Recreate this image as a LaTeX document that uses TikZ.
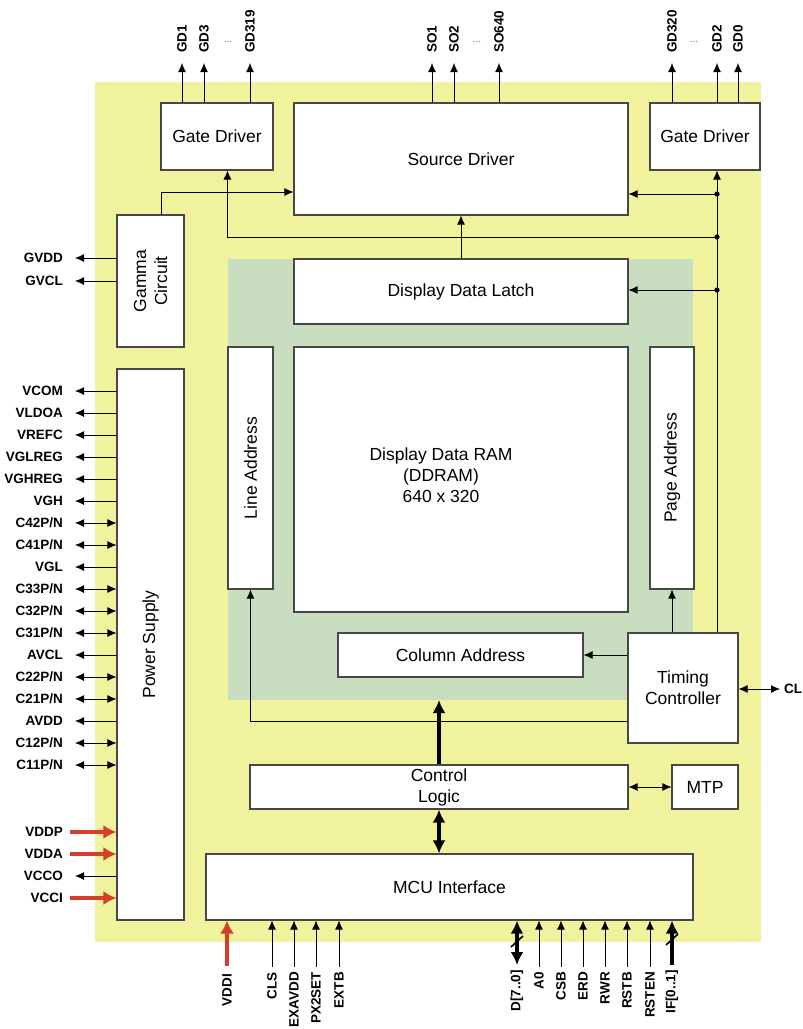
\documentclass[tikz,border=0pt]{standalone}
\usepackage{fontspec}
\setmainfont{Liberation Sans}
\usetikzlibrary{arrows.meta}
\definecolor{chipyellow}{RGB}{240,242,158}
\definecolor{ramgreen}{RGB}{201,222,192}
\definecolor{supplyred}{RGB}{212,62,42}
\tikzset{
  blk/.style={draw=black!72, line width=1.1pt, fill=white, inner sep=0pt, align=center},
  pin/.style={font=\bfseries\fontsize{13.5}{15}\selectfont, inner sep=0pt},
  arr/.style={-{Latex[length=9pt,width=8pt]}, line width=0.9pt},
  darr/.style={{Latex[length=9pt,width=8pt]}-{Latex[length=9pt,width=8pt]}, line width=0.9pt},
  bus/.style={-{Latex[length=13pt,width=13pt]}, line width=3.6pt},
  dbus/.style={{Latex[length=13pt,width=13pt]}-{Latex[length=13pt,width=13pt]}, line width=3.6pt},
  supply/.style={-{Latex[length=13pt,width=14pt]}, line width=3.6pt, draw=supplyred},
  gap/.style={font=\fontsize{10}{12}\selectfont, text=black!60, inner sep=0pt}
}
\begin{document}
\begin{tikzpicture}[x=1pt, y=-1pt, font=\fontsize{17.5}{21}\selectfont]
  \useasboundingbox (0,0) rectangle (803,1029);
  % chip and RAM area
  \fill[chipyellow] (95,82) rectangle (761,942);
  \fill[ramgreen] (228,259) rectangle (693,700);
  % blocks
  \node[blk, minimum width=112pt, minimum height=67pt] (gdl) at (217,136.5) {Gate Driver};
  \node[blk, minimum width=334pt, minimum height=112pt] (src) at (461,159) {Source Driver};
  \node[blk, minimum width=110pt, minimum height=67pt] (gdr) at (705,136.5) {Gate Driver};
  \node[blk, minimum width=67pt, minimum height=132pt] (gamma) at (150.5,281) {};
  \node[rotate=90, align=center] (gammatxt) at (gamma) {Gamma\\Circuit};
  \node[blk, minimum width=334pt, minimum height=65pt] (latch) at (461,291.5) {Display Data Latch};
  \node[blk, minimum width=45pt, minimum height=242pt] (la) at (250.5,468) {};
  \node[rotate=90] (latxt) at (la) {Line Address};
  \node[blk, minimum width=334pt, minimum height=265pt] (ram) at (461,479.5) {};
  \node[align=center] (ramtxt) at (441,475) {Display Data RAM\\(DDRAM)\\640 x 320};
  \node[blk, minimum width=44pt, minimum height=242pt] (pa) at (672,468) {};
  \node[rotate=90] (patxt) at (pa) {Page Address};
  \node[blk, minimum width=245pt, minimum height=44pt] (col) at (460.5,655) {Column Address};
  \node[blk, minimum width=110pt, minimum height=110pt] (tc) at (683,688) {Timing\\Controller};
  \node[blk, minimum width=378pt, minimum height=44pt] (ctrl) at (439,787) {Control\\Logic};
  \node[blk, minimum width=66pt, minimum height=44pt] (mtp) at (705,787) {MTP};
  \node[blk, minimum width=487pt, minimum height=66pt] (mcu) at (449.5,887) {MCU Interface};
  \node[blk, minimum width=67pt, minimum height=551pt] (pwr) at (150.5,644.5) {};
  \node[rotate=90] (pwrtxt) at (pwr) {Power Supply};
  % internal connections
  \coordinate (tap1) at (717,194);
  \coordinate (tap2) at (717,237);
  \coordinate (tap3) at (717,290);
  \coordinate (ramedge) at (439,700);
  \draw[arr] ([xshift=10.5pt]gamma.north) |- ([yshift=-33pt]src.west);
  \draw[arr] (tap1 |- tc.north) -- (tap1 |- gdr.south);
  \draw[arr] (tap1) -- (src.east |- tap1);
  \draw[arr] (tap2) -| (gdl.south -| la.west);
  \draw[arr] (tap3) -- (latch.east |- tap3);
  \foreach \t in {tap1, tap2, tap3}
    \fill (\t) circle (2.6pt);
  \draw[arr] (latch.north) -- (src.south);
  \draw[arr] (pa.south |- tc.north) -- (pa.south);
  \draw[arr] (tc.west |- col.east) -- (col.east);
  \draw[arr] ([yshift=-33pt]tc.west) -| (la.south);
  \draw[bus] (ctrl.north) -- (ramedge);
  \draw[dbus] (ctrl.south) -- (ctrl.south |- mcu.north);
  \draw[darr] (ctrl.east |- mtp.west) -- (mtp.west);
  \node[pin, anchor=west, inner xsep=4pt] (cl) at (780,689) {CL};
  \draw[darr] (tc.east |- cl.west) -- (cl.west);
  % top pins
  \foreach \x/\lab [count=\i] in {182/GD1, 204/GD3, 250/GD319} {
    \node[pin, rotate=90, anchor=west, inner xsep=10pt] (gl\i) at (\x,63) {\lab};
    \draw[arr] (gdl.north -| gl\i.west) -- (gl\i.west);
  }
  \foreach \x/\lab [count=\i] in {432/SO1, 454/SO2, 499/SO640} {
    \node[pin, rotate=90, anchor=west, inner xsep=10pt] (so\i) at (\x,63) {\lab};
    \draw[arr] (src.north -| so\i.west) -- (so\i.west);
  }
  \foreach \x/\lab [count=\i] in {672/GD320, 717/GD2, 738/GD0} {
    \node[pin, rotate=90, anchor=west, inner xsep=10pt] (gr\i) at (\x,63) {\lab};
    \draw[arr] (gdr.north -| gr\i.west) -- (gr\i.west);
  }
  \node[gap] (gldots) at (228,42) {...};
  \node[gap] (sodots) at (477,42) {...};
  \node[gap] (grdots) at (694,42) {...};
  % gamma and power supply pins
  \foreach \y/\lab [count=\i] in {258/GVDD, 281/GVCL} {
    \node[pin, anchor=east, inner xsep=12pt] (gv\i) at (75,\y) {\lab};
    \draw[arr] (gamma.west |- gv\i.east) -- (gv\i.east);
  }
  \foreach \y/\lab [count=\i] in {391/VCOM, 413/VLDOA, 435/VREFC, 457/VGLREG, 479/VGHREG,
      501/VGH, 567/VGL, 655/AVCL, 721/AVDD, 876/VCCO} {
    \node[pin, anchor=east, inner xsep=12pt] (po\i) at (75,\y) {\lab};
    \draw[arr] (pwr.west |- po\i.east) -- (po\i.east);
  }
  \foreach \y/\lab [count=\i] in {523/{C42P/N}, 545/{C41P/N}, 589/{C33P/N}, 611/{C32P/N},
      633/{C31P/N}, 677/{C22P/N}, 699/{C21P/N}, 743/{C12P/N}, 765/{C11P/N}} {
    \node[pin, anchor=east, inner xsep=12pt] (pb\i) at (75,\y) {\lab};
    \draw[darr] (pwr.west |- pb\i.east) -- (pb\i.east);
  }
  \foreach \y/\lab [count=\i] in {832/VDDP, 854/VDDA, 898/VCCI} {
    \node[pin, anchor=east, inner xsep=7pt] (pi\i) at (70,\y) {\lab};
    \draw[supply] (pi\i.east) -- (pwr.west |- pi\i.east);
  }
  % MCU pins
  \node[pin, rotate=90, anchor=east, inner xsep=8pt] (vddi) at (227,966) {VDDI};
  \draw[supply] (vddi.east) -- (mcu.south -| vddi.east);
  \foreach \x/\lab [count=\i] in {272/CLS, 294/EXAVDD, 316/PX2SET, 339/EXTB, 539/A0,
      561/CSB, 583/ERD, 605/RWR, 627/RSTB, 650/RSTEN} {
    \node[pin, rotate=90, anchor=east, inner xsep=5pt] (mi\i) at (\x,967) {\lab};
    \draw[arr] (mi\i.east) -- (mcu.south -| mi\i.east);
  }
  \node[pin, rotate=90, anchor=east, inner xsep=5pt] (dpin) at (517,965) {D[7..0]};
  \draw[dbus] (dpin.east) -- (mcu.south -| dpin.east);
  \node[pin, rotate=90, anchor=east, inner xsep=5pt] (ifpin) at (672,965) {IF[0..1]};
  \draw[bus] (ifpin.east) -- (mcu.south -| ifpin.east);
  \draw[line width=1.6pt] (511,947) -- (523,936);
  \draw[line width=1.6pt] (666,945) -- (678,934);
\end{tikzpicture}
\end{document}
